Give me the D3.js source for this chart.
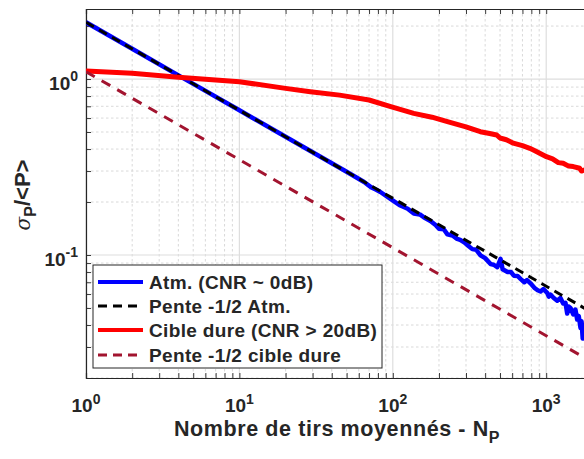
<!DOCTYPE html>
<html><head><meta charset="utf-8">
<script src="https://cdn.jsdelivr.net/npm/d3@7"></script>
<style>
html,body{margin:0;padding:0;background:#fff;overflow:hidden}
svg{display:block;font-family:"Liberation Sans",Arial,Helvetica,sans-serif}
</style></head><body>
<svg id="c" width="584" height="459"></svg>
<script>
// ---- data ----
const atmN = [1,2,5,10,20,50,65,72,78,83,96,112,125,137,150,159,176,190,200,215,227,245,260,275,292,310,330,350,373,400,434,455,480,504,520,560,590,615,650,680,720,750,790,840,880,918,960,1015,1040,1067,1120,1180,1239,1290,1336,1371,1400,1440,1500,1550,1592,1630,1674,1700,1730,1758,1780,1800,1850];
const atmV = [2.10,1.485,0.939,0.664,0.470,0.297,0.260,0.243,0.235,0.228,0.209,0.191,0.183,0.172,0.170,0.164,0.156,0.148,0.141,0.140,0.131,0.129,0.124,0.122,0.118,0.113,0.108,0.107,0.0996,0.096,0.0888,0.088,0.0852,0.0951,0.083,0.080,0.080,0.0763,0.076,0.0732,0.070,0.072,0.0690,0.065,0.063,0.062,0.064,0.0610,0.058,0.0595,0.057,0.055,0.0570,0.053,0.0535,0.0465,0.051,0.0500,0.046,0.049,0.0430,0.045,0.0385,0.042,0.0335,0.040,0.034,0.037,0.035];
const slopeAtmN = [1,2000];
const slopeAtmV = [2.10,0.0470];
const hardN = [1,2,4,10,20,29,45,70,97,137,180,227,300,372,420,476,500,550,610,700,782,850,1004,1100,1200,1290,1400,1500,1654,1700,1800,1900];
const hardV = [1.11,1.077,1.025,0.965,0.885,0.847,0.81,0.76,0.696,0.638,0.607,0.572,0.535,0.502,0.492,0.481,0.462,0.452,0.432,0.418,0.404,0.39,0.362,0.352,0.335,0.332,0.320,0.318,0.311,0.300,0.305,0.298];
const slopeHardN = [1,2000];
const slopeHardV = [1.10,0.0246];
const xTicks = [1,10,100,1000];
const xTickExp = ["0","1","2","3"];
const yTicks = [0.1,1];
const yTickExp = ["-1","0"];
const legendLabels = ["Atm. (CNR ~ 0dB)","Pente -1/2 Atm.","Cible dure (CNR > 20dB)","Pente -1/2 cible dure"];

// ---- layout ----
const svg = d3.select("#c");
const L = 86, T = 9, B = 378;
const dec = 153.4;
const xMax = 2000;
const R = L + dec*Math.log10(xMax);
const x = d3.scaleLog().domain([1,xMax]).range([L,R]);
const y = d3.scaleLog().domain([0.02,2.5]).range([B,T]);
const ink = "#262626";

svg.append("clipPath").attr("id","pc").append("rect")
  .attr("x",L).attr("y",T).attr("width",R-L).attr("height",B-T);

// grid
const minorX = [], minorY = [];
for (let d=1; d<=1000; d*=10) for (let k=2;k<=9;k++) if (d*k<=xMax) minorX.push(d*k);
for (let d=0.01; d<=1; d*=10) for (let k=2;k<=9;k++){ const v=+(d*k).toPrecision(3); if (v>=0.02 && v<=2.5) minorY.push(v);}
const g = svg.append("g");
g.selectAll(".mx").data(minorX).join("line")
  .attr("x1",d=>x(d)).attr("x2",d=>x(d)).attr("y1",T).attr("y2",B)
  .attr("stroke","#cfcfcf").attr("stroke-width",0.8).attr("stroke-dasharray","2.5,2.5");
g.selectAll(".my").data(minorY).join("line")
  .attr("y1",d=>y(d)).attr("y2",d=>y(d)).attr("x1",L).attr("x2",R)
  .attr("stroke","#cfcfcf").attr("stroke-width",0.8).attr("stroke-dasharray","2.5,2.5");
g.selectAll(".Mx").data(xTicks).join("line")
  .attr("x1",d=>x(d)).attr("x2",d=>x(d)).attr("y1",T).attr("y2",B)
  .attr("stroke","#dedede").attr("stroke-width",1.2);
g.selectAll(".My").data(yTicks).join("line")
  .attr("y1",d=>y(d)).attr("y2",d=>y(d)).attr("x1",L).attr("x2",R)
  .attr("stroke","#dedede").attr("stroke-width",1.2);

// axes with inward ticks
const axB = d3.axisBottom(x).tickValues(xTicks.concat(minorX)).tickSize(-5).tickFormat("");
const axTop = d3.axisTop(x).tickValues(xTicks.concat(minorX)).tickSize(-5).tickFormat("");
const axLft = d3.axisLeft(y).tickValues(yTicks.concat(minorY)).tickSize(-5).tickFormat("");
function styleAx(sel){ sel.select(".domain").attr("stroke",ink).attr("stroke-width",1.2); sel.selectAll(".tick line").attr("stroke",ink).attr("stroke-width",0.9); }
svg.append("g").attr("transform",`translate(0,${B})`).call(axB).call(styleAx);
svg.append("g").attr("transform",`translate(0,${T})`).call(axTop).call(styleAx);
svg.append("g").attr("transform",`translate(${L},0)`).call(axLft).call(styleAx);

// lines
const line = d3.line().x(d=>x(d[0])).y(d=>y(d[1]));
const pg = svg.append("g").attr("clip-path","url(#pc)");
const zip = (a,b)=>a.map((v,i)=>[v,b[i]]);
pg.append("path").attr("d",line(zip(atmN,atmV))).attr("fill","none").attr("stroke","#0000ff").attr("stroke-width",4.5).attr("stroke-linejoin","round");
pg.append("path").attr("d",line(zip(slopeAtmN,slopeAtmV))).attr("fill","none").attr("stroke","#000").attr("stroke-width",3).attr("stroke-dasharray","9,6");
pg.append("path").attr("d",line(zip(hardN,hardV))).attr("fill","none").attr("stroke","#ff0000").attr("stroke-width",5).attr("stroke-linejoin","round");
pg.append("path").attr("d",line(zip(slopeHardN,slopeHardV))).attr("fill","none").attr("stroke","#a2142f").attr("stroke-width",3).attr("stroke-dasharray","10,8");

// tick labels
const xl = svg.append("g").attr("fill",ink).attr("font-weight","bold").attr("font-size",19);
xTicks.forEach((t,i)=>{
  const tx = xl.append("text").attr("x",x(t)).attr("y",412).attr("text-anchor","middle");
  tx.append("tspan").text("10");
  tx.append("tspan").attr("dy",-8).attr("font-size",14).text(xTickExp[i]);
});
yTicks.forEach((t,i)=>{
  const tx = xl.append("text").attr("x",78).attr("y",y(t)+11).attr("text-anchor","end");
  tx.append("tspan").text("10");
  tx.append("tspan").attr("dy",-9).attr("font-size",14).text(yTickExp[i]);
});

// axis labels
const xt = svg.append("text").attr("x",337).attr("y",436).attr("text-anchor","middle")
  .attr("fill",ink).attr("font-weight","bold").attr("font-size",21.5).attr("letter-spacing",0.6);
xt.append("tspan").text("Nombre de tirs moyennés - N");
xt.append("tspan").attr("dy",7).attr("font-size",16).text("P");

const yt = svg.append("text").attr("transform","translate(30,195) rotate(-90)").attr("text-anchor","middle")
  .attr("fill",ink).attr("font-size",22);
yt.append("tspan").attr("font-style","italic").attr("font-family","'DejaVu Serif',serif").attr("font-size",20).text("σ");
yt.append("tspan").attr("dy",6).attr("font-size",16).attr("font-weight","bold").text("P");
yt.append("tspan").attr("dy",-6).attr("font-weight","bold").text("/<P>");

// legend
const lg = svg.append("g");
lg.append("rect").attr("x",93).attr("y",265).attr("width",289).attr("height",103)
  .attr("fill","#fff").attr("stroke",ink).attr("stroke-width",1);
const legStyles = [
  {c:"#0000ff",w:4,d:null},{c:"#000",w:3,d:"9,6"},{c:"#ff0000",w:4,d:null},{c:"#a2142f",w:3,d:"9,6"}];
const rowY = [282,306,330,355];
legendLabels.forEach((lab,i)=>{
  const s = legStyles[i];
  lg.append("line").attr("x1",98).attr("x2",143).attr("y1",rowY[i]).attr("y2",rowY[i])
    .attr("stroke",s.c).attr("stroke-width",s.w).attr("stroke-dasharray",s.d);
  lg.append("text").attr("x",149).attr("y",rowY[i]).attr("dy","0.36em")
    .attr("fill",ink).attr("font-weight","bold").attr("font-size",19).attr("letter-spacing",0.35).text(lab);
});
</script></body></html>
